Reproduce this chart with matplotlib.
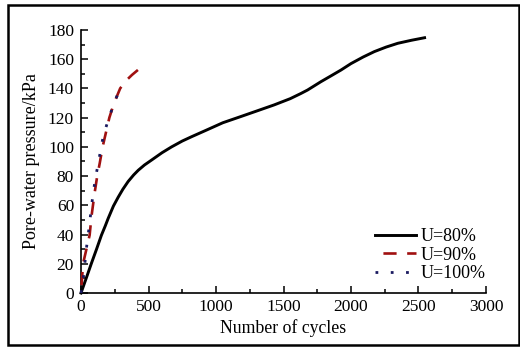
import matplotlib
matplotlib.use("Agg")
import matplotlib.pyplot as plt
from matplotlib.patches import Rectangle
from matplotlib.ticker import MultipleLocator

plt.rcParams['font.family'] = ['Liberation Serif', 'DejaVu Serif']

# U=80%
cycles_80 = [0, 40, 77, 115, 151, 180, 201, 240, 275, 310, 349, 390, 424, 470, 523, 600, 671,
             750, 820, 932, 1050, 1182, 1300, 1430, 1550, 1628, 1678, 1777, 1850, 1926,
             2000, 2090, 2173, 2260, 2347, 2450, 2545]
pwp_80 = [0, 10.5, 20.3, 30, 39.5, 46, 51, 59.5, 65.5, 71, 76.3, 80.8, 84, 87.6, 91, 96, 100,
          104, 107, 111.6, 116.5, 120.7, 124.5, 128.7, 133, 136.5, 138.9, 144.6, 148.5, 152.6,
          157, 161.5, 165.2, 168.3, 170.9, 173, 174.7]

# U=90%
cycles_90 = [0, 15, 40, 64, 77, 100, 120, 139, 160, 185, 210, 245, 290, 330, 377, 426]
pwp_90 = [0, 20, 30, 39.7, 52, 68, 80, 89, 100, 110, 120, 130, 140, 145, 149.2, 153]

# U=100%
cycles_100 = [0, 17, 40, 60, 89, 110, 130, 164, 200, 245, 290]
pwp_100 = [0, 10, 30.6, 45, 68, 80, 90, 107, 118, 130, 140]

x_ticks = [0, 500, 1000, 1500, 2000, 2500, 3000]
y_ticks = [0, 20, 40, 60, 80, 100, 120, 140, 160, 180]

fig = plt.figure(figsize=(5.2, 3.47), dpi=100)
ax = fig.add_axes([0.1558, 0.1556, 0.7788, 0.758])

ax.plot(cycles_80, pwp_80, color='black', lw=2.1, label='U=80%', clip_on=False, zorder=3)
ax.plot(cycles_90, pwp_90, color='#a01010', lw=1.9, linestyle=(6, (5, 4)), label='U=90%',
        clip_on=False, zorder=4)
ax.plot(cycles_100, pwp_100, color='#1a1a60', lw=2.0, linestyle=(0, (1, 4.5)), label='U=100%',
        clip_on=False, zorder=5)

ax.set_xlim(0, 3000)
ax.set_ylim(0, 180)
ax.set_xticks(x_ticks)
ax.set_yticks(y_ticks)
ax.xaxis.set_minor_locator(MultipleLocator(250))
ax.yaxis.set_minor_locator(MultipleLocator(10))
ax.tick_params(which='both', direction='in', labelsize=12.5)
ax.tick_params(which='major', length=5, width=1.1)
ax.tick_params(which='minor', length=3, width=1.1)
ax.tick_params(axis='y', pad=5)
ax.tick_params(axis='x', pad=4)
ax.spines['top'].set_visible(False)
ax.spines['right'].set_visible(False)
for s in ('left', 'bottom'):
    ax.spines[s].set_linewidth(1.2)

ax.set_xlabel('Number of cycles', fontsize=12.8, labelpad=3)
ax.set_ylabel('Pore-water pressure/kPa', fontsize=13, labelpad=6)

leg = ax.legend(loc='lower right', bbox_to_anchor=(1.0, 0.04), frameon=False, fontsize=13,
                handlelength=2.3, handletextpad=0.25, labelspacing=0.1, borderaxespad=0,
                borderpad=0)

fig.patches.append(Rectangle((8 / 520, 1 - 345 / 347), (519 - 8) / 520, (345 - 5) / 347,
                             transform=fig.transFigure, fill=False, edgecolor='black',
                             linewidth=1.8))

fig.savefig('out.png', dpi=100, facecolor='white')
